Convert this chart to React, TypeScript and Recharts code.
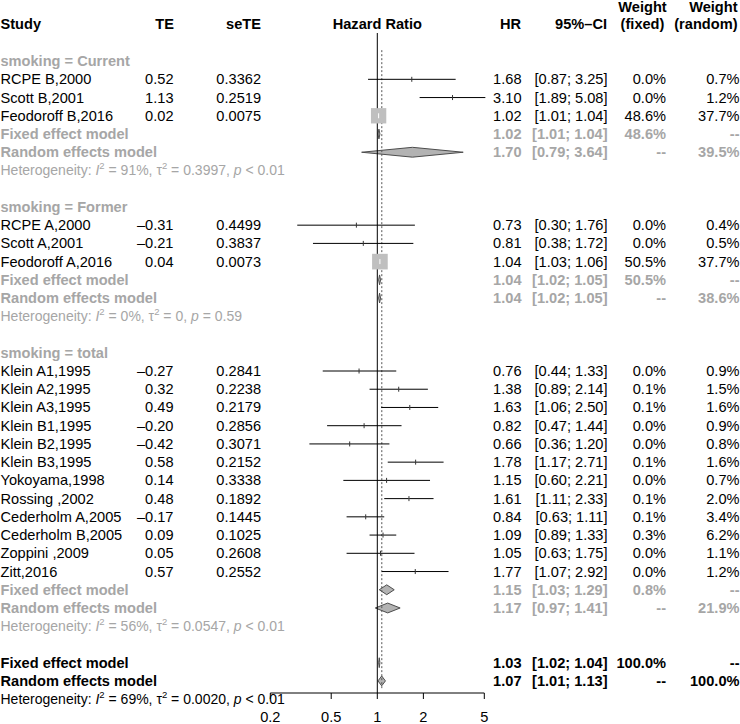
import React from "react";
import {
  ComposedChart,
  XAxis,
  YAxis,
  Scatter,
  ReferenceLine,
  ReferenceArea,
  ReferenceDot,
} from "recharts";

const groupNames = ["smoking = Current", "smoking = Former", "smoking = total"];

const studyNames = [
  "RCPE B,2000", "Scott B,2001", "Feodoroff B,2016",
  "RCPE A,2000", "Scott A,2001", "Feodoroff A,2016",
  "Klein A1,1995", "Klein A2,1995", "Klein A3,1995", "Klein B1,1995",
  "Klein B2,1995", "Klein B3,1995", "Yokoyama,1998", "Rossing ,2002",
  "Cederholm A,2005", "Cederholm B,2005", "Zoppini ,2009", "Zitt,2016",
];
const studyGroup = [0, 0, 0, 1, 1, 1, 2, 2, 2, 2, 2, 2, 2, 2, 2, 2, 2, 2];
const studyTE = [0.52, 1.13, 0.02, -0.31, -0.21, 0.04, -0.27, 0.32, 0.49, -0.2, -0.42, 0.58, 0.14, 0.48, -0.17, 0.09, 0.05, 0.57];
const studySE = [0.3362, 0.2519, 0.0075, 0.4499, 0.3837, 0.0073, 0.2841, 0.2238, 0.2179, 0.2856, 0.3071, 0.2152, 0.3338, 0.1892, 0.1445, 0.1025, 0.2608, 0.2552];
const studyHR = [1.68, 3.1, 1.02, 0.73, 0.81, 1.04, 0.76, 1.38, 1.63, 0.82, 0.66, 1.78, 1.15, 1.61, 0.84, 1.09, 1.05, 1.77];
const studyLower = [0.87, 1.89, 1.01, 0.3, 0.38, 1.03, 0.44, 0.89, 1.06, 0.47, 0.36, 1.17, 0.6, 1.11, 0.63, 0.89, 0.63, 1.07];
const studyUpper = [3.25, 5.08, 1.04, 1.76, 1.72, 1.06, 1.33, 2.14, 2.5, 1.44, 1.2, 2.71, 2.21, 2.33, 1.11, 1.33, 1.75, 2.92];
const studyWFixed = [0.0, 0.0, 48.6, 0.0, 0.0, 50.5, 0.0, 0.1, 0.1, 0.0, 0.0, 0.1, 0.0, 0.1, 0.1, 0.3, 0.0, 0.0];
const studyWRandom = [0.7, 1.2, 37.7, 0.4, 0.5, 37.7, 0.9, 1.5, 1.6, 0.9, 0.8, 1.6, 0.7, 2.0, 3.4, 6.2, 1.1, 1.2];

// pooled results: Current, Former, total, overall
const fixedHR = [1.02, 1.04, 1.15, 1.03];
const fixedLower = [1.01, 1.02, 1.03, 1.02];
const fixedUpper = [1.04, 1.05, 1.29, 1.04];
const fixedWeight = [48.6, 50.5, 0.8, 100.0];
const randomHR = [1.7, 1.04, 1.17, 1.07];
const randomLower = [0.79, 1.02, 0.97, 1.01];
const randomUpper = [3.64, 1.05, 1.41, 1.13];
const randomWeight = [39.5, 38.6, 21.9, 100.0];
const hetI2 = ["91%", "0%", "56%", "69%"];
const hetTau2 = ["0.3997", "0", "0.0547", "0.0020"];
const hetP = ["< 0.01", "= 0.59", "< 0.01", "< 0.01"];

const xTicks = [0.2, 0.5, 1, 2, 5];

const FONT = '"Liberation Sans", Arial, Helvetica, sans-serif';
const GREY = "#a6a6a6";
const FS = 14.6;
const COL = { study: 0.5, te: 173.5, se: 261, hr: 521.5, ci: 607.5, wf: 666, wr: 739.5 };

type Row = { y: number; kind: string; g: number; s: number };
const rows: Row[] = [];
let r = 0;
groupNames.forEach((_, g) => {
  rows.push({ y: r++, kind: "group", g, s: -1 });
  studyGroup.forEach((sg, s) => {
    if (sg === g) rows.push({ y: r++, kind: "study", g, s });
  });
  rows.push({ y: r++, kind: "fixed", g, s: -1 });
  rows.push({ y: r++, kind: "random", g, s: -1 });
  rows.push({ y: r++, kind: "het", g, s: -1 });
  r++;
});
rows.push({ y: r++, kind: "fixed", g: 3, s: -1 });
rows.push({ y: r++, kind: "random", g: 3, s: -1 });
rows.push({ y: r++, kind: "het", g: 3, s: -1 });

const studyRows = rows.filter((d) => d.kind === "study");
const squares = studyRows.map((d) => ({ x: studyHR[d.s], y: d.y, w: studyWFixed[d.s] }));

const signed = (v: number) => (v < 0 ? "\u2013" : "") + Math.abs(v).toFixed(2);
const ci = (lo: number, hi: number) => `[${lo.toFixed(2)}; ${hi.toFixed(2)}]`;
const pct = (v: number) => v.toFixed(1) + "%";

function T({ x, y, anchor = "end", bold = false, color = "#000", size = FS, children }: any) {
  return (
    <text
      x={x}
      y={y}
      textAnchor={anchor}
      dominantBaseline="central"
      fontFamily={FONT}
      fontSize={size}
      fontWeight={bold ? "bold" : "normal"}
      fill={color}
    >
      {children}
    </text>
  );
}

function RowText({ cy, row }: { cy: number; row: Row }) {
  const { kind, g, s } = row;
  const col = g < 3 ? GREY : "#000";
  if (kind === "group") {
    return <T x={COL.study} y={cy} anchor="start" bold color={GREY}>{groupNames[g]}</T>;
  }
  if (kind === "study") {
    return (
      <g>
        <T x={COL.study} y={cy} anchor="start">{studyNames[s]}</T>
        <T x={COL.te} y={cy}>{signed(studyTE[s])}</T>
        <T x={COL.se} y={cy}>{studySE[s].toFixed(4)}</T>
        <T x={COL.hr} y={cy}>{studyHR[s].toFixed(2)}</T>
        <T x={COL.ci} y={cy}>{ci(studyLower[s], studyUpper[s])}</T>
        <T x={COL.wf} y={cy}>{pct(studyWFixed[s])}</T>
        <T x={COL.wr} y={cy}>{pct(studyWRandom[s])}</T>
      </g>
    );
  }
  if (kind === "fixed" || kind === "random") {
    const fixed = kind === "fixed";
    return (
      <g>
        <T x={COL.study} y={cy} anchor="start" bold color={col}>
          {fixed ? "Fixed effect model" : "Random effects model"}
        </T>
        <T x={COL.hr} y={cy} bold color={col}>{(fixed ? fixedHR[g] : randomHR[g]).toFixed(2)}</T>
        <T x={COL.ci} y={cy} bold color={col}>
          {fixed ? ci(fixedLower[g], fixedUpper[g]) : ci(randomLower[g], randomUpper[g])}
        </T>
        <T x={COL.wf} y={cy} bold color={col}>{fixed ? pct(fixedWeight[g]) : "--"}</T>
        <T x={COL.wr} y={cy} bold color={col}>{fixed ? "--" : pct(randomWeight[g])}</T>
      </g>
    );
  }
  // heterogeneity
  return (
    <T x={COL.study} y={cy} anchor="start" color={col} size={14}>
      {"Heterogeneity: "}
      <tspan fontStyle="italic">I</tspan>
      <tspan dy={-5} fontSize={9.5}>2</tspan>
      <tspan dy={5}>{" = " + hetI2[g] + ", \u03c4"}</tspan>
      <tspan dy={-5} fontSize={9.5}>2</tspan>
      <tspan dy={5}>{" = " + hetTau2[g] + ", "}</tspan>
      <tspan fontStyle="italic">p</tspan>
      {" " + hetP[g]}
    </T>
  );
}

function Header({ cy, line }: { cy: number; line: number }) {
  if (line === 0) {
    return (
      <g>
        <T x={642.5} y={cy} anchor="middle" bold>Weight</T>
        <T x={737.5} y={cy} anchor="end" bold>Weight</T>
      </g>
    );
  }
  return (
    <g>
      <T x={COL.study} y={cy} anchor="start" bold>Study</T>
      <T x={174} y={cy} bold>TE</T>
      <T x={261} y={cy} bold>seTE</T>
      <T x={377.3} y={cy} anchor="middle" bold>Hazard Ratio</T>
      <T x={521} y={cy} bold>HR</T>
      <T x={607} y={cy} bold>{"95%\u2013CI"}</T>
      <T x={642.5} y={cy} anchor="middle" bold>(fixed)</T>
      <T x={737.5} y={cy} anchor="end" bold>(random)</T>
    </g>
  );
}

const Diamond = (p: any) => {
  const { x, y, width, height } = p;
  const mx = x + width / 2;
  const my = y + height / 2;
  return (
    <polygon
      points={`${x},${my} ${mx},${y} ${x + width},${my} ${mx},${y + height}`}
      fill="#b3b3b3"
      stroke="#4d4d4d"
      strokeWidth={1}
    />
  );
};

const StudyMark = (p: any) => {
  const { cx, cy, payload } = p;
  const s = 22 * Math.sqrt(payload.w / 100);
  return (
    <g>
      {s > 0 && <rect x={cx - s / 2} y={cy - s / 2} width={s} height={s} fill="#bfbfbf" />}
      <line x1={cx} x2={cx} y1={cy - 2.5} y2={cy + 2.5} stroke={s > 6 ? "#fff" : "#333"} strokeWidth={1} />
    </g>
  );
};

export default function App() {
  const modelRows = rows.filter((d) => d.kind === "fixed" || d.kind === "random");
  return (
    <div style={{ position: "absolute", left: 0, top: 0, width: 740, height: 724, background: "#fff" }}>
      <ComposedChart
        width={740}
        height={724}
        data={squares}
        margin={{ top: 33, right: 255.7, bottom: 0, left: 270.3 }}
      >
        <XAxis
          dataKey="x"
          type="number"
          scale="log"
          domain={[0.2, 5]}
          ticks={xTicks}
          allowDataOverflow
          height={31}
          tickSize={6}
          tickMargin={13}
          axisLine={{ stroke: "#000" }}
          tickLine={{ stroke: "#000" }}
          tick={{ fill: "#000", fontSize: FS, fontFamily: FONT }}
        />
        <YAxis dataKey="y" type="number" hide reversed domain={[-1.541, 34.663]} allowDataOverflow />
        <ReferenceLine x={1} stroke="#000" strokeWidth={1} />
        <ReferenceLine
          segment={[{ x: randomHR[3], y: -0.6 }, { x: randomHR[3], y: 34.5 }]}
          stroke="#555"
          strokeDasharray="2 2"
          ifOverflow="visible"
        />
        {studyRows.map((d) => (
          <ReferenceLine
            key={`ci-${d.s}`}
            segment={[{ x: studyLower[d.s], y: d.y }, { x: studyUpper[d.s], y: d.y }]}
            stroke="#000"
            strokeWidth={1}
            ifOverflow="visible"
          />
        ))}
        {modelRows.map((d) => {
          const fixed = d.kind === "fixed";
          return (
            <ReferenceArea
              key={`dia-${d.y}`}
              x1={fixed ? fixedLower[d.g] : randomLower[d.g]}
              x2={fixed ? fixedUpper[d.g] : randomUpper[d.g]}
              y1={d.y - 0.27}
              y2={d.y + 0.27}
              ifOverflow="visible"
              shape={Diamond}
            />
          );
        })}
        <Scatter data={squares} isAnimationActive={false} shape={StudyMark} />
        {[-2.97, -2.03].map((y, i) => (
          <ReferenceDot
            key={`hdr-${i}`}
            x={1}
            y={y}
            r={0}
            ifOverflow="visible"
            shape={(p: any) => <Header cy={p.cy} line={i} />}
          />
        ))}
        {rows.map((d) => (
          <ReferenceDot
            key={`row-${d.y}`}
            x={1}
            y={d.y}
            r={0}
            ifOverflow="visible"
            shape={(p: any) => <RowText cy={p.cy} row={d} />}
          />
        ))}
      </ComposedChart>
    </div>
  );
}
